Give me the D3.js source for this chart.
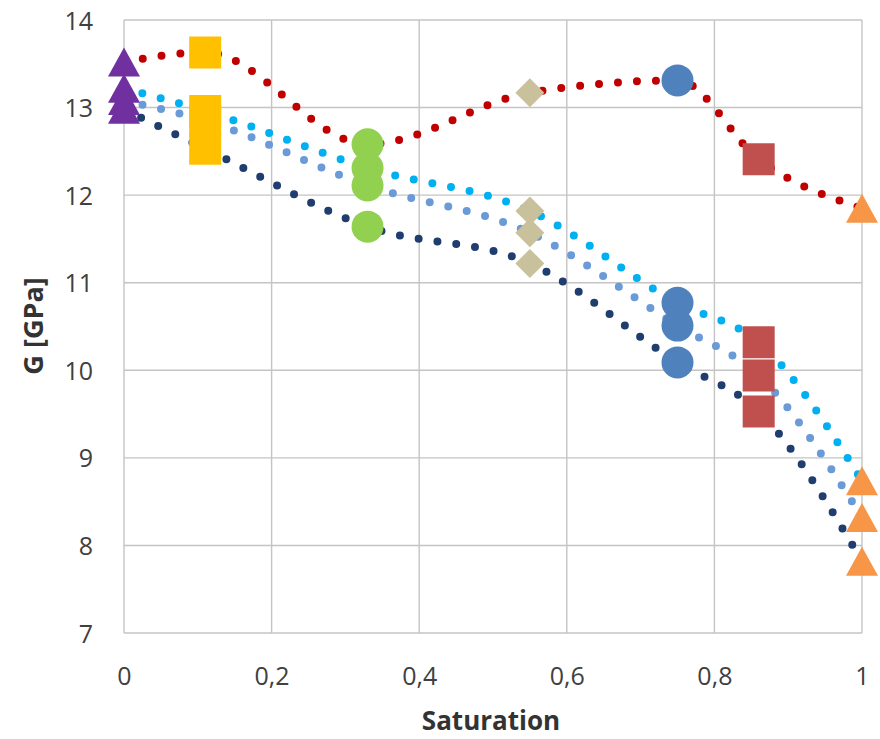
<!DOCTYPE html>
<html>
<head>
<meta charset="utf-8">
<script src="https://cdn.jsdelivr.net/npm/d3@7"></script>
<style>
  html, body { margin: 0; padding: 0; background: #fff; }
  svg { display: block; }
</style>
</head>
<body>
<svg id="chart" width="880" height="739"></svg>
<script>
// Saturation levels (one marker group per level)
const saturation = [0, 0.11, 0.33, 0.55, 0.75, 0.86, 1];

// Shear modulus G [GPa] for the four measurement series
const seriesRed   = [13.52, 13.63, 12.58, 13.17, 13.31, 12.41, 11.85];
const seriesCyan  = [13.22, 12.96, 12.31, 11.82, 10.77, 10.32, 8.74];
const seriesBlue  = [13.08, 12.85, 12.11, 11.57, 10.51, 9.94, 8.32];
const seriesNavy  = [12.98, 12.53, 11.64, 11.22, 10.09, 9.53, 7.82];

const lineColors = ["#c00000", "#00b0f0", "#6a9bd8", "#1f3d6e"];

// Marker style per saturation level
const markerShapes = ["triangle", "square", "circle", "diamond", "circle", "square", "triangle"];
const markerColors = ["#7030a0", "#ffc000", "#92d050", "#c9c09c", "#4f81bd", "#c0504d", "#f79646"];

const xTicks = [0, 0.2, 0.4, 0.6, 0.8, 1];
const xTickLabels = ["0", "0,2", "0,4", "0,6", "0,8", "1"];
const yTicks = [7, 8, 9, 10, 11, 12, 13, 14];

const svg = d3.select("#chart");
const W = 880, H = 739;
const margin = { left: 124, right: 18, top: 20, bottom: 106 };

const x = d3.scaleLinear().domain([0, 1]).range([margin.left, W - margin.right]);
const y = d3.scaleLinear().domain([7, 14]).range([H - margin.bottom, margin.top]);

svg.append("rect").attr("width", W).attr("height", H).attr("fill", "#fff");

// Grid
const grid = svg.append("g").attr("class", "grid");
grid.selectAll("line.v").data(xTicks).join("line")
  .attr("x1", d => x(d)).attr("x2", d => x(d))
  .attr("y1", y(7)).attr("y2", y(14))
  .attr("stroke", "#c4c4c4").attr("stroke-width", 1.4);
grid.selectAll("line.h").data(yTicks).join("line")
  .attr("x1", x(0)).attr("x2", x(1))
  .attr("y1", d => y(d)).attr("y2", d => y(d))
  .attr("stroke", "#c4c4c4").attr("stroke-width", 1.4);

// Axes (labels only; lines come from the grid)
const font = "'Open Sans', sans-serif";
const xAxis = d3.axisBottom(x).tickValues(xTicks)
  .tickFormat((d, i) => xTickLabels[i]).tickSize(0).tickPadding(0);
const gx = svg.append("g").attr("transform", `translate(0,${y(7)})`).call(xAxis);
gx.select(".domain").remove();
gx.selectAll("text")
  .attr("y", 52).attr("dy", 0)
  .attr("font-family", font).attr("font-size", 25).attr("fill", "#404040");

const yAxis = d3.axisLeft(y).tickValues(yTicks).tickFormat(d3.format("d"))
  .tickSize(0).tickPadding(31);
const gy = svg.append("g").attr("transform", `translate(${x(0)},0)`).call(yAxis);
gy.select(".domain").remove();
gy.selectAll("text")
  .attr("dy", "0.36em")
  .attr("font-family", font).attr("font-size", 25).attr("fill", "#404040");

// Axis titles
svg.append("text")
  .attr("x", 491).attr("y", 730)
  .attr("text-anchor", "middle")
  .attr("font-family", font).attr("font-weight", "bold").attr("font-size", 26)
  .attr("fill", "#333")
  .text("Saturation");

svg.append("text")
  .attr("transform", `translate(43,326) rotate(-90)`)
  .attr("text-anchor", "middle")
  .attr("font-family", font).attr("font-weight", "bold").attr("font-size", 27)
  .attr("fill", "#333")
  .text("G [GPa]");

// Smoothed dotted lines, one per series
const series = [seriesRed, seriesCyan, seriesBlue, seriesNavy];
const line = d3.line()
  .x((d, i) => x(saturation[i]))
  .y(d => y(d))
  .curve(d3.curveMonotoneX);

svg.append("g").selectAll("path").data(series).join("path")
  .attr("d", d => line(d))
  .attr("fill", "none")
  .attr("stroke", (d, i) => lineColors[i])
  .attr("stroke-width", 8)
  .attr("stroke-linecap", "round")
  .attr("stroke-dasharray", "0 19");

// Markers
const markerSize = 32;
function shapePath(shape) {
  const s = markerSize / 2;
  switch (shape) {
    case "triangle": {
      const h = 29;
      return `M0,${-h / 2}L${s},${h / 2}L${-s},${h / 2}Z`;
    }
    case "square":
      return `M${-s},${-s}H${s}V${s}H${-s}Z`;
    case "diamond": {
      const r = 14.5;
      return `M0,${-r}L${r},0L0,${r}L${-r},0Z`;
    }
    default:
      return d3.symbol(d3.symbolCircle, Math.PI * s * s)();
  }
}

const points = [];
saturation.forEach((sv, gi) => {
  series.forEach((vals, si) => {
    points.push({ s: sv, g: vals[gi], group: gi, series: si });
  });
});

svg.append("g").selectAll("path").data(points).join("path")
  .attr("transform", d => `translate(${x(d.s)},${y(d.g)})`)
  .attr("d", d => shapePath(markerShapes[d.group]))
  .attr("fill", d => markerColors[d.group]);
</script>
</body>
</html>
